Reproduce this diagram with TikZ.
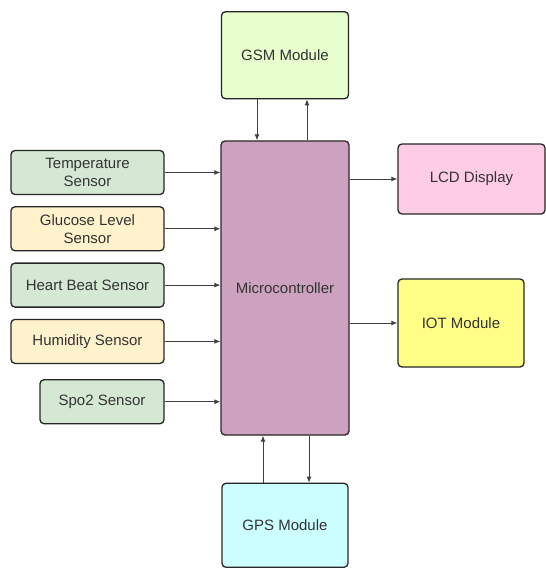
\documentclass[tikz,border=0pt]{standalone}
\usepackage{fontspec}
\setmainfont{Liberation Sans}
\usetikzlibrary{positioning, arrows.meta, calc}
\definecolor{sensgreen}{HTML}{D5E8D4}
\definecolor{sensyellow}{HTML}{FFF2CC}
\definecolor{gsmgreen}{HTML}{E6FFCC}
\definecolor{mcupurple}{HTML}{CDA2BE}
\definecolor{lcdpink}{HTML}{FFCCE6}
\definecolor{iotyellow}{HTML}{FFFF88}
\definecolor{gpscyan}{HTML}{CCFFFF}
\definecolor{inkgray}{HTML}{333333}

\begin{document}
\begin{tikzpicture}[x=1pt, y=1pt,
      box/.style={draw=black!85, line width=1.3pt, rounded corners=4pt,
        text=inkgray, align=center, font=\fontsize{15}{18}\selectfont,
        inner sep=2pt},
      sensor/.style={box, minimum width=153pt, minimum height=44pt},
      modul/.style={box, minimum width=127pt, minimum height=87pt},
      pfeil/.style={-{Latex[length=6pt, width=5pt]}, black!75, line width=0.9pt}]
    \useasboundingbox (0,0) rectangle (546,-568);
    % centre block
    \node[box, fill=mcupurple, minimum width=128pt, minimum height=294pt]
      (mcu) at (285,-288) {Microcontroller};
    % sensors on the left
    \node[sensor, fill=sensgreen] (temp) at (87.5,-172.5) {Temperature\\Sensor};
    \node[sensor, fill=sensyellow, below=11pt of temp] (gluc) {Glucose Level\\Sensor};
    \node[sensor, fill=sensgreen, below=11pt of gluc] (heart) {Heart Beat Sensor};
    \node[sensor, fill=sensyellow, below=11pt of heart] (humid) {Humidity Sensor};
    \node[sensor, fill=sensgreen, minimum width=124pt,
      below=15pt of humid.south east, anchor=north east] (spo) {Spo2 Sensor};
    % modules round the controller
    \node[modul, fill=gsmgreen, above=41pt of mcu] (gsm) {GSM Module};
    \node[modul, fill=gpscyan, minimum width=126pt, minimum height=84pt,
      below=47pt of mcu] (gps) {GPS Module};
    \node[box, fill=lcdpink, minimum width=147pt, minimum height=70pt]
      (lcd) at (471.5,-179) {LCD Display};
    \node[modul, fill=iotyellow, minimum width=126pt, minimum height=88pt]
      (iot) at (461,-323) {IOT Module};
    % connectors
    \foreach \s in {temp, gluc, heart, humid, spo}
      \draw[pfeil] (\s.east) -- (\s.east -| mcu.west);
    \draw[pfeil] (mcu.east |- lcd.west) -- (lcd.west);
    \draw[pfeil] (mcu.east |- iot.west) -- (iot.west);
    \draw[pfeil] ([xshift=-28pt]gsm.south) -- ([xshift=-28pt]gsm.south |- mcu.north);
    \draw[pfeil] ([xshift=22pt]gsm.south |- mcu.north) -- ([xshift=22pt]gsm.south);
    \draw[pfeil] ([xshift=-22pt]gps.north) -- ([xshift=-22pt]gps.north |- mcu.south);
    \draw[pfeil] ([xshift=24pt]gps.north |- mcu.south) -- ([xshift=24pt]gps.north);
  \end{tikzpicture}
\end{document}
